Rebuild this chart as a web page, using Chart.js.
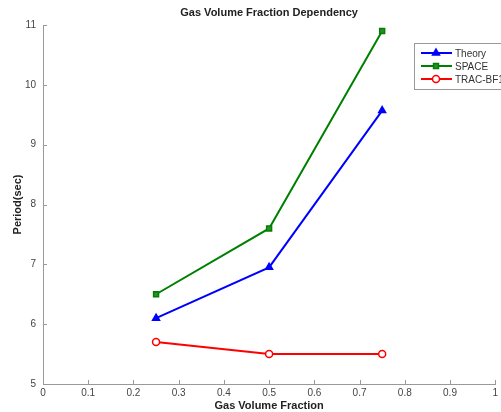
<!DOCTYPE html>
<html>
<head>
<meta charset="utf-8">
<script src="https://cdn.jsdelivr.net/npm/chart.js@4"></script>
<style>
  body { margin: 0; background: #fff; }
  canvas { display: block; }
</style>
</head>
<body>
<canvas id="chart" width="501" height="412"></canvas>
<script>
// values
var gasFraction = [0.25, 0.5, 0.75];
var theoryPeriod = [6.1, 6.95, 9.57];
var spacePeriod = [6.5, 7.6, 10.9];
var tracPeriod = [5.7, 5.5, 5.5];
var xTicks = [0, 0.1, 0.2, 0.3, 0.4, 0.5, 0.6, 0.7, 0.8, 0.9, 1];
var yTicks = [5, 6, 7, 8, 9, 10, 11];

var FONT = "'Liberation Sans', Arial, sans-serif";

function toPoints(xs, ys) {
    return xs.map((x, i) => ({ x: x, y: ys[i] }));
}

// title, inward ticks and legend box, matlab style
var matlabBits = {
    id: 'matlabBits',
    afterDraw(chart) {
        const ctx = chart.ctx;
        const area = chart.chartArea;
        const xs = chart.scales.x;
        const ys = chart.scales.y;
        ctx.save();

        // title
        ctx.fillStyle = '#222';
        ctx.font = 'bold 11px ' + FONT;
        ctx.textAlign = 'center';
        ctx.textBaseline = 'middle';
        ctx.fillText('Gas Volume Fraction Dependency', (area.left + area.right) / 2, 13);

        // x axis title
        ctx.fillText('Gas Volume Fraction', (area.left + area.right) / 2, 406);

        // inward ticks
        ctx.strokeStyle = '#999';
        ctx.lineWidth = 1;
        xTicks.forEach(v => {
            const px = Math.round(xs.getPixelForValue(v)) + 0.5;
            ctx.beginPath();
            ctx.moveTo(px, area.bottom);
            ctx.lineTo(px, area.bottom - 4);
            ctx.stroke();
        });
        yTicks.forEach(v => {
            const py = Math.round(ys.getPixelForValue(v)) + 0.5;
            ctx.beginPath();
            ctx.moveTo(area.left, py);
            ctx.lineTo(area.left + 4, py);
            ctx.stroke();
        });

        // legend
        const bx = 414, by = 43, bw = 100, bh = 46;
        ctx.fillStyle = '#fff';
        ctx.fillRect(bx, by, bw, bh);
        ctx.strokeStyle = '#999';
        ctx.lineWidth = 1;
        ctx.strokeRect(bx + 0.5, by + 0.5, bw, bh);
        const rows = [53, 66, 79];
        chart.data.datasets.forEach((ds, i) => {
            const y = rows[i];
            ctx.strokeStyle = ds.borderColor;
            ctx.lineWidth = 2;
            ctx.beginPath();
            ctx.moveTo(421, y);
            ctx.lineTo(452, y);
            ctx.stroke();
            ctx.fillStyle = ds.backgroundColor;
            ctx.lineWidth = ds.pointBorderWidth;
            Chart.helpers.drawPoint(ctx, {
                pointStyle: ds.pointStyle,
                radius: ds.pointRadius,
                borderWidth: ds.pointBorderWidth
            }, 436, y);
            ctx.fillStyle = '#333';
            ctx.font = '10px ' + FONT;
            ctx.textAlign = 'left';
            ctx.textBaseline = 'middle';
            ctx.fillText(ds.label, 455, y + 1);
        });
        ctx.restore();
    }
};

new Chart(document.getElementById('chart').getContext('2d'), {
    type: 'line',
    data: {
        datasets: [{
            label: 'Theory',
            data: toPoints(gasFraction, theoryPeriod),
            borderColor: '#0000ff',
            backgroundColor: '#0000ff',
            pointStyle: 'triangle',
            pointRadius: 4,
            pointBorderWidth: 1.5,
            borderWidth: 2,
            fill: false
        }, {
            label: 'SPACE',
            data: toPoints(gasFraction, spacePeriod),
            borderColor: '#008000',
            backgroundColor: '#2e8b2e',
            pointStyle: 'rect',
            pointRadius: 3.5,
            pointBorderWidth: 1.5,
            borderWidth: 2,
            fill: false
        }, {
            label: 'TRAC-BF1',
            data: toPoints(gasFraction, tracPeriod),
            borderColor: '#ff0000',
            backgroundColor: '#ffffff',
            pointStyle: 'circle',
            pointRadius: 3.5,
            pointBorderWidth: 1.5,
            borderWidth: 2,
            fill: false
        }]
    },
    options: {
        responsive: false,
        animation: false,
        layout: { padding: { top: 25, right: 5, left: 0, bottom: 0 } },
        plugins: {
            legend: { display: false },
            tooltip: { enabled: false }
        },
        scales: {
            x: {
                type: 'linear',
                min: 0,
                max: 1,
                afterBuildTicks: s => { s.ticks = xTicks.map(v => ({ value: v })); },
                afterFit: s => { s.height = 28; },
                grid: { display: false, drawTicks: false },
                border: { display: true, color: '#999', width: 1 },
                ticks: {
                    padding: 3,
                    color: '#444',
                    font: { family: FONT, size: 10 },
                    maxRotation: 0,
                    callback: v => String(v)
                },
                title: { display: false }
            },
            y: {
                min: 5,
                max: 11,
                afterBuildTicks: s => { s.ticks = yTicks.map(v => ({ value: v })); },
                afterFit: s => { s.width = 43; },
                grid: { display: false, drawTicks: false },
                border: { display: true, color: '#999', width: 1 },
                ticks: {
                    padding: 7,
                    color: '#444',
                    font: { family: FONT, size: 10 }
                },
                title: {
                    display: true,
                    text: 'Period(sec)',
                    color: '#222',
                    font: { family: FONT, size: 11, weight: 'bold' },
                    padding: { top: 11, bottom: 0 }
                }
            }
        }
    },
    plugins: [matlabBits]
});
</script>
</body>
</html>
